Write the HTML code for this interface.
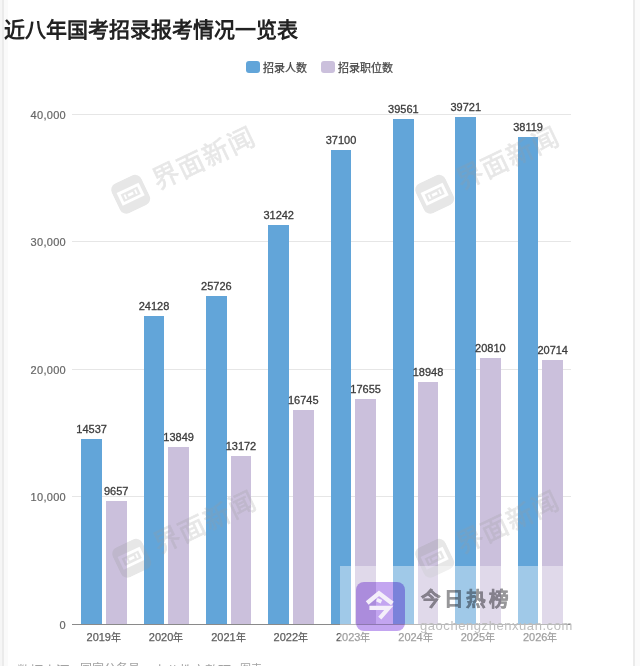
<!DOCTYPE html>
<html lang="zh-CN"><head><meta charset="utf-8"><title>chart</title>
<style>
*{margin:0;padding:0;box-sizing:border-box}
html,body{width:640px;height:666px;overflow:hidden;background:#fff}
body{position:relative;font-family:"Liberation Sans", sans-serif;}
.a{position:absolute}
.g{position:absolute;left:72px;width:499px;height:1px;background:#e6e6e6}
.yl{position:absolute;left:0;width:66px;text-align:right;font-size:11px;color:#666;line-height:12px;letter-spacing:0.3px;-webkit-text-stroke:0.2px #666}
.b{position:absolute;background:#62a5d9}
.p{position:absolute;background:#cbc0dc}
.v{position:absolute;width:60px;text-align:center;font-size:11px;color:#3c3c3c;line-height:12px;-webkit-text-stroke:0.3px #3c3c3c}
.xl{position:absolute;width:62px;text-align:center;font-size:11px;color:#5e5e5e;line-height:12px;top:631px;-webkit-text-stroke:0.25px #5e5e5e}
.xl span{font-size:10px}
</style></head><body>

<div class="a" style="left:0;top:0;width:2px;height:666px;background:#f6f6f6"></div>
<div class="a" style="left:2px;top:0;width:2px;height:666px;background:#ebebeb"></div>
<div class="a" style="left:4px;top:0;width:4px;height:666px;background:#fafafa"></div>
<div class="a" style="left:633px;top:0;width:1.5px;height:666px;background:#ebebeb"></div>
<div class="a" style="left:635px;top:0;width:5px;height:666px;background:#fbfbfb"></div>
<div class="a" style="left:4px;top:15.7px;font-size:21px;letter-spacing:0px;font-weight:bold;color:#222;line-height:28px;white-space:nowrap">近八年国考招录报考情况一览表</div>
<div class="a" style="left:246px;top:60.5px;width:13.5px;height:12.5px;border-radius:3px;background:#62a5d9"></div>
<div class="a" style="left:263.2px;top:59.8px;font-size:11px;color:#444;-webkit-text-stroke:0.25px #444;line-height:16px;white-space:nowrap">招录人数</div>
<div class="a" style="left:321px;top:60.5px;width:13.5px;height:12.5px;border-radius:3px;background:#cbc0dc"></div>
<div class="a" style="left:337.8px;top:59.8px;font-size:11px;color:#444;-webkit-text-stroke:0.25px #444;line-height:16px;white-space:nowrap">招录职位数</div>
<div class="yl" style="top:618.80px">0</div>
<div class="g" style="top:495.90px"></div>
<div class="yl" style="top:490.90px">10,000</div>
<div class="g" style="top:368.90px"></div>
<div class="yl" style="top:363.90px">20,000</div>
<div class="g" style="top:240.90px"></div>
<div class="yl" style="top:235.90px">30,000</div>
<div class="g" style="top:113.90px"></div>
<div class="yl" style="top:108.90px">40,000</div>
<div class="b" style="left:81.30px;top:438.65px;width:20.7px;height:185.75px"></div>
<div class="v" style="left:61.65px;top:422.65px">14537</div>
<div class="p" style="left:105.90px;top:501.00px;width:20.7px;height:123.40px"></div>
<div class="v" style="left:86.25px;top:485.00px">9657</div>
<div class="xl" style="left:72.77px">2019<span>年</span></div>
<div class="b" style="left:143.65px;top:316.09px;width:20.7px;height:308.31px"></div>
<div class="v" style="left:124.00px;top:300.09px">24128</div>
<div class="p" style="left:168.25px;top:447.44px;width:20.7px;height:176.96px"></div>
<div class="v" style="left:148.60px;top:431.44px">13849</div>
<div class="xl" style="left:135.12px">2020<span>年</span></div>
<div class="b" style="left:206.00px;top:295.67px;width:20.7px;height:328.73px"></div>
<div class="v" style="left:186.35px;top:279.67px">25726</div>
<div class="p" style="left:230.60px;top:456.09px;width:20.7px;height:168.31px"></div>
<div class="v" style="left:210.95px;top:440.09px">13172</div>
<div class="xl" style="left:197.48px">2021<span>年</span></div>
<div class="b" style="left:268.35px;top:225.19px;width:20.7px;height:399.21px"></div>
<div class="v" style="left:248.70px;top:209.19px">31242</div>
<div class="p" style="left:292.95px;top:410.43px;width:20.7px;height:213.97px"></div>
<div class="v" style="left:273.30px;top:394.43px">16745</div>
<div class="xl" style="left:259.82px">2022<span>年</span></div>
<div class="b" style="left:330.70px;top:150.34px;width:20.7px;height:474.06px"></div>
<div class="v" style="left:311.05px;top:134.34px">37100</div>
<div class="p" style="left:355.30px;top:398.80px;width:20.7px;height:225.60px"></div>
<div class="v" style="left:335.65px;top:382.80px">17655</div>
<div class="xl" style="left:322.18px">2023<span>年</span></div>
<div class="b" style="left:393.05px;top:118.89px;width:20.7px;height:505.51px"></div>
<div class="v" style="left:373.40px;top:102.89px">39561</div>
<div class="p" style="left:417.65px;top:382.28px;width:20.7px;height:242.12px"></div>
<div class="v" style="left:398.00px;top:366.28px">18948</div>
<div class="xl" style="left:384.53px">2024<span>年</span></div>
<div class="b" style="left:455.40px;top:116.85px;width:20.7px;height:507.55px"></div>
<div class="v" style="left:435.75px;top:100.85px">39721</div>
<div class="p" style="left:480.00px;top:358.49px;width:20.7px;height:265.91px"></div>
<div class="v" style="left:460.35px;top:342.49px">20810</div>
<div class="xl" style="left:446.88px">2025<span>年</span></div>
<div class="b" style="left:517.75px;top:137.32px;width:20.7px;height:487.08px"></div>
<div class="v" style="left:498.10px;top:121.32px">38119</div>
<div class="p" style="left:542.35px;top:359.72px;width:20.7px;height:264.68px"></div>
<div class="v" style="left:522.70px;top:343.72px">20714</div>
<div class="xl" style="left:509.22px">2026<span>年</span></div>
<div class="a" style="left:72px;top:623.8px;width:499px;height:1px;background:#8a8a8a"></div>
<div class="a" style="left:130.4px;top:194px;width:0;height:0;transform:rotate(-25.5deg);transform-origin:0 0;opacity:0.23"><svg class="a" style="left:-16.5px;top:-16.5px" width="33" height="33" viewBox="0 0 29 29"><path d="M6.5,0H22.5A6.5,6.5 0 0 1 29,6.5V22.5A6.5,6.5 0 0 1 22.5,29H6.5A6.5,6.5 0 0 1 0,22.5V6.5A6.5,6.5 0 0 1 6.5,0ZM3.8,8.3H25.2V20.7H3.8Z M6.4,10.9H22.6V18.1H6.4Z M8.6,12.5H10.2V16.5H8.6Z M18.8,12.5H20.4V16.5H18.8Z M12,13.3H17V15.7H12Z" fill="#9b9b9b" fill-rule="evenodd"/></svg><div class="a" style="left:27px;top:-16px;font-size:26.5px;letter-spacing:1.5px;line-height:32px;color:#9b9b9b;-webkit-text-stroke:0.7px #9b9b9b;white-space:nowrap">界面新闻</div></div>
<div class="a" style="left:434px;top:193.5px;width:0;height:0;transform:rotate(-25.5deg);transform-origin:0 0;opacity:0.23"><svg class="a" style="left:-16.5px;top:-16.5px" width="33" height="33" viewBox="0 0 29 29"><path d="M6.5,0H22.5A6.5,6.5 0 0 1 29,6.5V22.5A6.5,6.5 0 0 1 22.5,29H6.5A6.5,6.5 0 0 1 0,22.5V6.5A6.5,6.5 0 0 1 6.5,0ZM3.8,8.3H25.2V20.7H3.8Z M6.4,10.9H22.6V18.1H6.4Z M8.6,12.5H10.2V16.5H8.6Z M18.8,12.5H20.4V16.5H18.8Z M12,13.3H17V15.7H12Z" fill="#9b9b9b" fill-rule="evenodd"/></svg><div class="a" style="left:27px;top:-16px;font-size:26.5px;letter-spacing:1.5px;line-height:32px;color:#9b9b9b;-webkit-text-stroke:0.7px #9b9b9b;white-space:nowrap">界面新闻</div></div>
<div class="a" style="left:130.5px;top:558px;width:0;height:0;transform:rotate(-25.5deg);transform-origin:0 0;opacity:0.23"><svg class="a" style="left:-16.5px;top:-16.5px" width="33" height="33" viewBox="0 0 29 29"><path d="M6.5,0H22.5A6.5,6.5 0 0 1 29,6.5V22.5A6.5,6.5 0 0 1 22.5,29H6.5A6.5,6.5 0 0 1 0,22.5V6.5A6.5,6.5 0 0 1 6.5,0ZM3.8,8.3H25.2V20.7H3.8Z M6.4,10.9H22.6V18.1H6.4Z M8.6,12.5H10.2V16.5H8.6Z M18.8,12.5H20.4V16.5H18.8Z M12,13.3H17V15.7H12Z" fill="#9b9b9b" fill-rule="evenodd"/></svg><div class="a" style="left:27px;top:-16px;font-size:26.5px;letter-spacing:1.5px;line-height:32px;color:#9b9b9b;-webkit-text-stroke:0.7px #9b9b9b;white-space:nowrap">界面新闻</div></div>
<div class="a" style="left:434px;top:558px;width:0;height:0;transform:rotate(-25.5deg);transform-origin:0 0;opacity:0.23"><svg class="a" style="left:-16.5px;top:-16.5px" width="33" height="33" viewBox="0 0 29 29"><path d="M6.5,0H22.5A6.5,6.5 0 0 1 29,6.5V22.5A6.5,6.5 0 0 1 22.5,29H6.5A6.5,6.5 0 0 1 0,22.5V6.5A6.5,6.5 0 0 1 6.5,0ZM3.8,8.3H25.2V20.7H3.8Z M6.4,10.9H22.6V18.1H6.4Z M8.6,12.5H10.2V16.5H8.6Z M18.8,12.5H20.4V16.5H18.8Z M12,13.3H17V15.7H12Z" fill="#9b9b9b" fill-rule="evenodd"/></svg><div class="a" style="left:27px;top:-16px;font-size:26.5px;letter-spacing:1.5px;line-height:32px;color:#9b9b9b;-webkit-text-stroke:0.7px #9b9b9b;white-space:nowrap">界面新闻</div></div>
<div class="a" style="left:340px;top:566px;width:226px;height:80px;background:rgba(255,255,255,0.4)"></div>
<div class="a" style="left:355.5px;top:581.5px;width:49.5px;height:49.5px;border-radius:8px;background:#c3a5f0;mix-blend-mode:multiply"></div>
<svg class="a" style="left:0;top:0" width="640" height="666" viewBox="0 0 640 666"><path d="M367.2 603L379 593.2L392.4 603.6" fill="none" stroke="#f4effa" stroke-width="4.4" stroke-linejoin="miter"/><path d="M376.8 599.6L381.4 601.8" fill="none" stroke="#f4effa" stroke-width="3.8"/><path d="M369.4 607.8H388.8L379.8 618.2" fill="none" stroke="#f4effa" stroke-width="4.2" stroke-linejoin="miter"/></svg>
<div class="a" style="left:420.8px;top:586.3px;font-size:19.5px;letter-spacing:2.8px;font-weight:bold;color:#979799;-webkit-text-stroke:0.5px #979799;line-height:26px;white-space:nowrap;mix-blend-mode:multiply">今日热榜</div>
<div class="a" style="left:420px;top:618.5px;font-size:13px;letter-spacing:0.56px;color:#bdbdbd;line-height:14px;white-space:nowrap">gaochengzhenxuan.com</div>
<div class="a" style="left:17px;top:664.2px;font-size:13.5px;color:#a2a2a2;line-height:16px;white-space:nowrap">数据来源</div>
<div class="a" style="left:80px;top:661.4px;font-size:12px;color:#a2a2a2;line-height:16px;white-space:nowrap">国家公务员</div>
<div class="a" style="left:153px;top:664.2px;font-size:13.5px;color:#a2a2a2;line-height:16px;white-space:nowrap">中公教育整理</div>
<div class="a" style="left:240px;top:660.9px;font-size:11px;color:#a2a2a2;line-height:16px;white-space:nowrap">图表</div>
</body></html>
